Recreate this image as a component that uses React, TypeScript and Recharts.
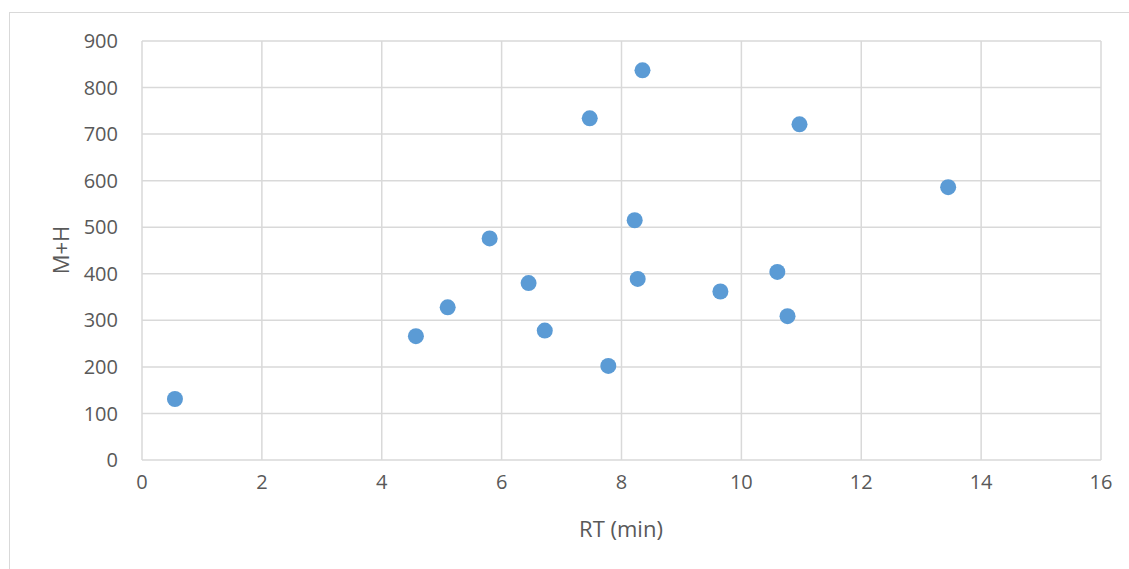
import { ScatterChart, Scatter, XAxis, YAxis, CartesianGrid, Label } from "recharts";

const rtValues = [0.55, 4.57, 5.1, 5.8, 6.45, 6.72, 7.47, 7.78, 8.22, 8.27, 8.35, 9.65, 10.6, 10.77, 10.97, 13.45];
const mhValues = [131, 266, 328, 476, 380, 278, 734, 202, 515, 389, 837, 362, 404, 309, 721, 586];

const xTicks = [0, 2, 4, 6, 8, 10, 12, 14, 16];
const yTicks = [0, 100, 200, 300, 400, 500, 600, 700, 800, 900];

const points = rtValues.map((rt, i) => ({ rt, mh: mhValues[i] }));

const FONT = "'Open Sans', sans-serif";
const TEXT = "#595959";
const GRID = "#d9d9d9";

const tickStyle = { fontSize: 20, fill: TEXT, fontFamily: FONT };

function Dot(props: any) {
  return <circle cx={props.cx} cy={props.cy} r={8} fill="#5b9bd5" />;
}

export default function App() {
  return (
    <div style={{ position: "absolute", left: 0, top: 0, width: 1129, height: 569, background: "#fff" }}>
      <div
        style={{
          position: "absolute",
          left: 9,
          top: 12,
          right: 0,
          bottom: 0,
          borderTop: `1px solid ${GRID}`,
          borderLeft: `1px solid ${GRID}`,
        }}
      />
      <ScatterChart
        width={1129}
        height={569}
        margin={{ top: 41, right: 28, left: 0, bottom: 49 }}
        style={{ position: "absolute", left: 0, top: 0 }}
      >
        <CartesianGrid stroke={GRID} strokeWidth={1.5} />
        <XAxis
          type="number"
          dataKey="rt"
          domain={[0, 16]}
          ticks={xTicks}
          interval={0}
          axisLine={false}
          tickLine={false}
          tickSize={0}
          tickMargin={15}
          height={60}
          tick={tickStyle}
        >
          <Label
            content={() => (
              <text x={621} y={537} textAnchor="middle" fontSize={22} fill={TEXT} fontFamily={FONT}>
                RT (min)
              </text>
            )}
          />
        </XAxis>
        <YAxis
          type="number"
          dataKey="mh"
          domain={[0, 900]}
          ticks={yTicks}
          interval={0}
          axisLine={false}
          tickLine={false}
          tickSize={0}
          tickMargin={24}
          width={142}
          tick={tickStyle}
        >
          <Label
            content={() => (
              <text
                x={69}
                y={250}
                transform="rotate(-90 69 250)"
                textAnchor="middle"
                fontSize={22}
                fill={TEXT}
                fontFamily={FONT}
              >
                M+H
              </text>
            )}
          />
        </YAxis>
        <Scatter data={points} shape={<Dot />} isAnimationActive={false} />
      </ScatterChart>
    </div>
  );
}
